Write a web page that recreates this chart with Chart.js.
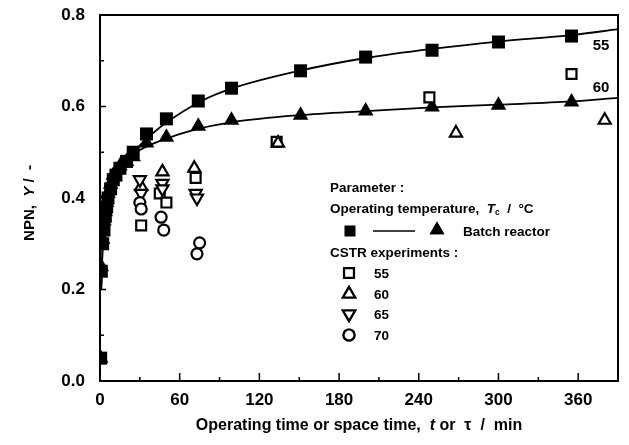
<!DOCTYPE html>
<html>
<head>
<meta charset="utf-8">
<script src="https://cdn.jsdelivr.net/npm/chart.js@4.4.1/dist/chart.umd.min.js"></script>
<style>
	html, body { margin: 0; padding: 0; background: #fff; }
</style>
</head>
<body>
<canvas id="npnChart" width="629" height="445"></canvas>
<script>
// Batch reactor (filled markers)
const batchTime55 = [0.5, 1, 2, 3, 4, 5, 6, 8, 10, 12, 15, 20, 25, 35, 50, 74, 99, 151, 200, 250, 300, 355];
const batchNpn55 = [0.05, 0.24, 0.30, 0.33, 0.36, 0.38, 0.40, 0.42, 0.44, 0.45, 0.465, 0.48, 0.50, 0.54, 0.573, 0.612, 0.64, 0.678, 0.708, 0.723, 0.741, 0.754];
const batchTime60 = [0.5, 1, 2, 3, 4, 5, 6, 8, 10, 15, 20, 25, 35, 50, 74, 99, 151, 200, 250, 300, 355];
const batchNpn60 = [0.05, 0.25, 0.31, 0.35, 0.37, 0.39, 0.41, 0.43, 0.45, 0.47, 0.48, 0.49, 0.52, 0.533, 0.557, 0.57, 0.581, 0.59, 0.599, 0.603, 0.61];

// Fitted curves
const fitTime = [1, 2, 4, 6, 10, 15, 20, 30, 40, 50, 75, 100, 150, 200, 250, 300, 355, 390];
const fitNpn55 = [0.20, 0.29, 0.355, 0.395, 0.435, 0.462, 0.483, 0.515, 0.542, 0.565, 0.61, 0.64, 0.678, 0.706, 0.726, 0.742, 0.756, 0.769];
const fitNpn60 = [0.21, 0.30, 0.365, 0.405, 0.448, 0.472, 0.487, 0.505, 0.519, 0.53, 0.552, 0.566, 0.581, 0.59, 0.598, 0.604, 0.611, 0.619];

// CSTR experiments (open markers)
const cstrTime55 = [31, 45, 50, 72, 133, 248, 355];
const cstrNpn55 = [0.34, 0.41, 0.39, 0.444, 0.523, 0.62, 0.671];
const cstrTime60 = [31, 47, 71, 134, 268, 380];
const cstrNpn60 = [0.425, 0.457, 0.465, 0.52, 0.542, 0.57];
const cstrTime65 = [30, 31, 47, 47, 72, 73];
const cstrNpn65 = [0.44, 0.41, 0.432, 0.42, 0.41, 0.40];
const cstrTime70 = [30, 31, 46, 48, 75, 73];
const cstrNpn70 = [0.39, 0.376, 0.358, 0.33, 0.302, 0.278];

const xTicks = [0, 60, 120, 180, 240, 300, 360];
const yTicks = [0.0, 0.2, 0.4, 0.6, 0.8];

const FONT = 'Arial, "Liberation Sans", sans-serif';

function pairs(xs, ys) {
	return xs.map((x, i) => ({ x: x, y: ys[i] }));
}

// draws text made of plain / italic pieces, returns end x
function drawRuns(ctx, runs, x, y, size) {
	let cx = x;
	runs.forEach((r) => {
		const s = r.sub ? size * 0.62 : size;
		ctx.font = (r.it ? 'italic ' : '') + 'bold ' + s + 'px ' + FONT;
		ctx.fillText(r.t, cx, r.sub ? y + size * 0.3 : y);
		cx += ctx.measureText(r.t).width;
	});
	return cx;
}
function runsWidth(ctx, runs, size) {
	let w = 0;
	runs.forEach((r) => {
		const s = r.sub ? size * 0.62 : size;
		ctx.font = (r.it ? 'italic ' : '') + 'bold ' + s + 'px ' + FONT;
		w += ctx.measureText(r.t).width;
	});
	return w;
}

const decorPlugin = {
	id: 'decor',
	afterDatasetsDraw(chart) {
		const ctx = chart.ctx;
		const a = chart.chartArea;
		const xs = chart.scales.x;
		const ys = chart.scales.y;
		ctx.save();
		ctx.strokeStyle = '#000';
		ctx.fillStyle = '#000';

		// frame
		ctx.lineWidth = 2;
		ctx.strokeRect(a.left, a.top, a.right - a.left, a.bottom - a.top);

		// inward ticks
		ctx.lineWidth = 1.5;
		ctx.beginPath();
		for (let v = 0; v <= 390; v += 30) {
			const px = xs.getPixelForValue(v);
			const len = v % 60 === 0 ? 8 : 4;
			ctx.moveTo(px, a.bottom);
			ctx.lineTo(px, a.bottom - len);
		}
		for (let k = 1; k < 8; k++) {
			const py = ys.getPixelForValue(k / 10);
			const len = k % 2 === 0 ? 6 : 4;
			ctx.moveTo(a.left, py);
			ctx.lineTo(a.left + len, py);
		}
		ctx.stroke();

		// curve labels
		ctx.textBaseline = 'middle';
		ctx.textAlign = 'left';
		ctx.font = 'bold 15px ' + FONT;
		ctx.fillText('55', xs.getPixelForValue(371), ys.getPixelForValue(0.733));
		ctx.fillText('60', xs.getPixelForValue(371), ys.getPixelForValue(0.64));

		// legend block
		const lx = 330;
		const fs = 13.5;
		drawRuns(ctx, [{ t: 'Parameter :' }], lx, 188, fs);
		drawRuns(ctx, [{ t: 'Operating temperature,  ' }, { t: 'T', it: true }, { t: 'c', sub: true }, { t: '  /  °C' }], lx, 209, fs);
		const helpers = Chart.helpers;
		helpers.drawPoint(ctx, { pointStyle: 'rect', radius: 7.5, borderWidth: 0 }, 350, 231);
		ctx.fill();
		ctx.lineWidth = 1.5;
		ctx.beginPath();
		ctx.moveTo(373, 231);
		ctx.lineTo(415, 231);
		ctx.stroke();
		helpers.drawPoint(ctx, { pointStyle: 'triangle', radius: 8.5, borderWidth: 0 }, 437, 230);
		ctx.fill();
		drawRuns(ctx, [{ t: 'Batch reactor' }], 463, 232, fs);
		drawRuns(ctx, [{ t: 'CSTR experiments :' }], lx, 253, fs);

		const rows = [
			{ style: 'rect', r: 7, rot: 0, label: '55', y: 273 },
			{ style: 'triangle', r: 7, rot: 0, label: '60', y: 294 },
			{ style: 'triangle', r: 7, rot: 180, label: '65', y: 314 },
			{ style: 'circle', r: 5.5, rot: 0, label: '70', y: 335 }
		];
		rows.forEach((row) => {
			ctx.fillStyle = '#fff';
			ctx.strokeStyle = '#000';
			ctx.lineWidth = 2.2;
			helpers.drawPoint(ctx, { pointStyle: row.style, radius: row.r, rotation: row.rot, borderWidth: 2.2 }, 349, row.y);
			ctx.fill();
			ctx.stroke();
			ctx.fillStyle = '#000';
			drawRuns(ctx, [{ t: row.label }], 374, row.y + 1, fs);
		});

		// axis titles
		const xt = [{ t: 'Operating time or space time,  ' }, { t: 't', it: true }, { t: ' or  τ  /  min' }];
		const xtSize = 16;
		const xw = runsWidth(ctx, xt, xtSize);
		drawRuns(ctx, xt, (a.left + a.right) / 2 - xw / 2, 426, xtSize);

		const yt = [{ t: 'NPN,  ' }, { t: 'Y', it: true }, { t: ' /  -' }];
		const yw = runsWidth(ctx, yt, 15);
		ctx.translate(30, 203);
		ctx.rotate(-Math.PI / 2);
		drawRuns(ctx, yt, -yw / 2, 0, 15);
		ctx.restore();
	}
};

function openSet(xs, ys, style, radius, rot) {
	return {
		data: pairs(xs, ys),
		pointStyle: style,
		pointRadius: radius,
		pointRotation: rot || 0,
		pointBackgroundColor: '#fff',
		pointBorderColor: '#000',
		pointBorderWidth: 2.2,
		showLine: false
	};
}

new Chart(document.getElementById('npnChart'), {
	type: 'scatter',
	data: {
		datasets: [
			{
				data: pairs(fitTime, fitNpn55),
				showLine: true,
				borderColor: '#000',
				borderWidth: 1.8,
				pointRadius: 0,
				cubicInterpolationMode: 'monotone'
			},
			{
				data: pairs(fitTime, fitNpn60),
				showLine: true,
				borderColor: '#000',
				borderWidth: 1.8,
				pointRadius: 0,
				cubicInterpolationMode: 'monotone'
			},
			openSet(cstrTime70, cstrNpn70, 'circle', 5.5),
			openSet(cstrTime65, cstrNpn65, 'triangle', 7, 180),
			openSet(cstrTime60, cstrNpn60, 'triangle', 7),
			openSet(cstrTime55, cstrNpn55, 'rect', 7),
			{
				data: pairs(batchTime60, batchNpn60),
				pointStyle: 'triangle',
				pointRadius: 9,
				pointBackgroundColor: '#000',
				pointBorderColor: '#000',
				pointBorderWidth: 0
			},
			{
				data: pairs(batchTime55, batchNpn55),
				pointStyle: 'rect',
				pointRadius: 9.2,
				pointBackgroundColor: '#000',
				pointBorderColor: '#000',
				pointBorderWidth: 0
			}
		]
	},
	options: {
		responsive: false,
		animation: false,
		layout: { padding: { top: 15, right: 11, left: 0, bottom: 0 } },
		plugins: {
			legend: { display: false },
			tooltip: { enabled: false }
		},
		scales: {
			x: {
				type: 'linear',
				min: 0,
				max: 390,
				grid: { display: false, drawTicks: false },
				border: { display: false },
				afterFit: (s) => { s.height = 64; s.paddingLeft = 0; s.paddingRight = 0; },
				afterBuildTicks: (s) => { s.ticks = xTicks.map((v) => ({ value: v })); },
				ticks: {
					padding: 9,
					color: '#000',
					maxRotation: 0,
					font: { family: FONT, size: 17, weight: 'bold' },
					callback: (v) => v
				}
			},
			y: {
				min: 0,
				max: 0.8,
				grid: { display: false, drawTicks: false },
				border: { display: false },
				afterFit: (s) => { s.width = 100; s.paddingTop = 0; s.paddingBottom = 0; },
				afterBuildTicks: (s) => { s.ticks = yTicks.map((v) => ({ value: v })); },
				ticks: {
					padding: 15,
					color: '#000',
					font: { family: FONT, size: 17, weight: 'bold' },
					callback: (v) => Number(v).toFixed(1)
				}
			}
		}
	},
	plugins: [decorPlugin]
});
</script>
</body>
</html>
